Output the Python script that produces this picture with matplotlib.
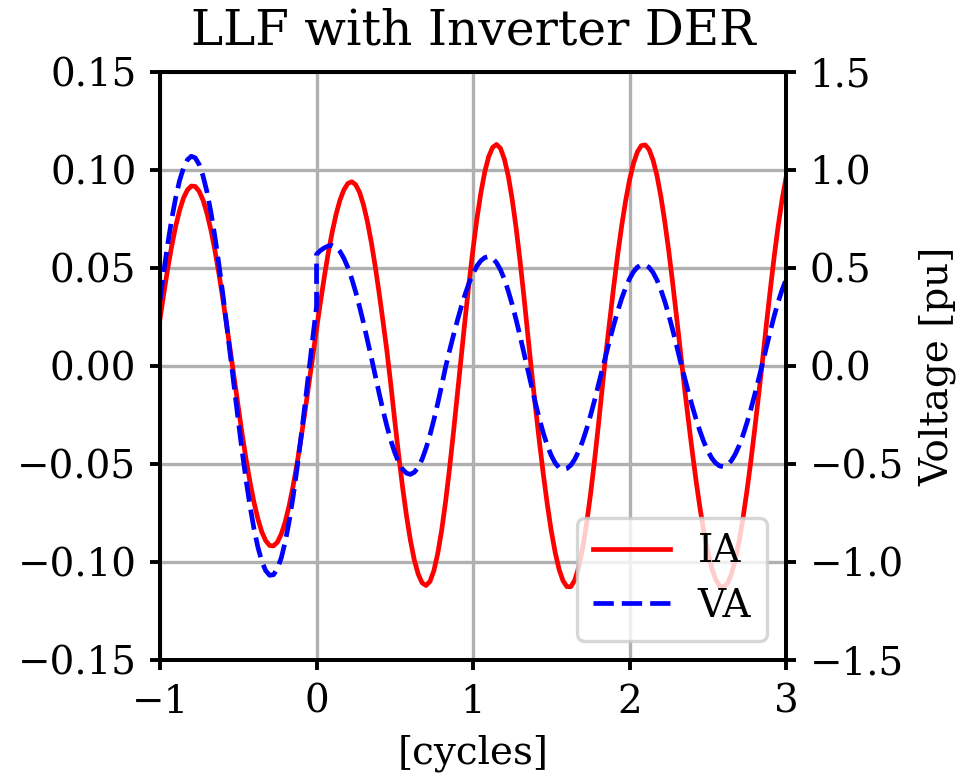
import numpy as np
import matplotlib
matplotlib.use("Agg")
import matplotlib.pyplot as plt

plt.rcParams['font.family'] = ['DejaVu Serif']

# sample grid in cycles (step 0.025)
cycles = np.round(np.arange(-1.0, 3.0001, 0.025), 3)

# IA current (left axis), one value per cycles point
ia = [0.0240, 0.0375, 0.0500, 0.0614, 0.0713, 0.0794, 0.0857, 0.0898,
      0.0918, 0.0916, 0.0891, 0.0846, 0.0779, 0.0694, 0.0593, 0.0477,
      0.0349, 0.0213, 0.0072, -0.0072, -0.0213, -0.0349, -0.0477, -0.0593,
      -0.0694, -0.0779, -0.0846, -0.0891, -0.0916, -0.0918, -0.0899, -0.0857,
      -0.0795, -0.0713, -0.0614, -0.0501, -0.0374, -0.0240, -0.0099, 0.0044,
      0.0188, 0.0325, 0.0456, 0.0577, 0.0683, 0.0774, 0.0847, 0.0899,
      0.0931, 0.0940, 0.0925, 0.0886, 0.0822, 0.0737, 0.0631, 0.0509,
      0.0372, 0.0226, 0.0074, -0.0097, -0.0280, -0.0456, -0.0620, -0.0765,
      -0.0890, -0.0991, -0.1063, -0.1107, -0.1120, -0.1099, -0.1044, -0.0955,
      -0.0836, -0.0690, -0.0522, -0.0338, -0.0144, 0.0053, 0.0244, 0.0427,
      0.0597, 0.0752, 0.0883, 0.0990, 0.1068, 0.1115, 0.1130, 0.1111,
      0.1056, 0.0970, 0.0851, 0.0706, 0.0539, 0.0355, 0.0159, -0.0036,
      -0.0218, -0.0393, -0.0558, -0.0709, -0.0842, -0.0952, -0.1038, -0.1096,
      -0.1126, -0.1126, -0.1093, -0.1027, -0.0931, -0.0808, -0.0659, -0.0492,
      -0.0310, -0.0116, 0.0071, 0.0244, 0.0413, 0.0572, 0.0716, 0.0843,
      0.0949, 0.1033, 0.1092, 0.1124, 0.1128, 0.1104, 0.1051, 0.0972,
      0.0866, 0.0737, 0.0590, 0.0427, 0.0254, 0.0073, -0.0103, -0.0270,
      -0.0432, -0.0585, -0.0724, -0.0846, -0.0949, -0.1031, -0.1088, -0.1122,
      -0.1129, -0.1110, -0.1064, -0.0991, -0.0895, -0.0776, -0.0638, -0.0486,
      -0.0321, -0.0148, 0.0030, 0.0216, 0.0394, 0.0563, 0.0716, 0.0850,
      0.0961]

# VA voltage (right axis) before the fault: cycles -1.000 ... 0.000
va_pre = [0.336, 0.487, 0.626, 0.751, 0.858, 0.946, 1.010, 1.052,
          1.070, 1.062, 1.028, 0.969, 0.888, 0.785, 0.663, 0.525,
          0.375, 0.215, 0.050, -0.116, -0.279, -0.437, -0.583, -0.715,
          -0.829, -0.923, -0.996, -1.044, -1.068, -1.065, -1.035, -0.978,
          -0.897, -0.793, -0.668, -0.525, -0.369, -0.204, -0.033, 0.136,
          0.304]
# VA voltage after the fault: cycles 0.000 ... 3.000
va_post = [0.570, 0.589, 0.603, 0.612, 0.615, 0.606, 0.584, 0.549,
           0.503, 0.445, 0.378, 0.302, 0.220, 0.133, 0.044, -0.048,
           -0.139, -0.227, -0.308, -0.381, -0.442, -0.492, -0.527, -0.547,
           -0.553, -0.542, -0.516, -0.475, -0.419, -0.352, -0.274, -0.189,
           -0.098, -0.004, 0.078, 0.157, 0.232, 0.303, 0.367, 0.424,
           0.472, 0.510, 0.537, 0.553, 0.558, 0.549, 0.527, 0.491,
           0.443, 0.383, 0.314, 0.237, 0.154, 0.067, -0.021, -0.109,
           -0.194, -0.273, -0.345, -0.407, -0.457, -0.495, -0.519, -0.528,
           -0.523, -0.506, -0.476, -0.435, -0.384, -0.323, -0.254, -0.180,
           -0.101, -0.020, 0.060, 0.138, 0.212, 0.281, 0.345, 0.399,
           0.445, 0.480, 0.504, 0.516, 0.516, 0.503, 0.477, 0.439,
           0.389, 0.330, 0.261, 0.186, 0.106, 0.023, -0.055, -0.131,
           -0.203, -0.271, -0.333, -0.388, -0.433, -0.470, -0.495, -0.510,
           -0.514, -0.505, -0.484, -0.451, -0.407, -0.353, -0.290, -0.221,
           -0.146, -0.067, 0.014, 0.098, 0.180, 0.257, 0.327, 0.389,
           0.440]

n_pre = len(va_pre)
cycles_va = np.concatenate([cycles[:n_pre], cycles[n_pre - 1:]])
va = va_pre + va_post
n = min(len(cycles), len(ia))
m = min(len(cycles_va), len(va))

left_ticks = [-0.15, -0.10, -0.05, 0.00, 0.05, 0.10, 0.15]
right_ticks = [-1.5, -1.0, -0.5, 0.0, 0.5, 1.0, 1.5]
x_ticks = [-1, 0, 1, 2, 3]

fig = plt.figure(figsize=(9.64, 7.78), dpi=100)
ax = fig.add_axes([0.166, 0.1517, 0.6494, 0.7558])
ax2 = ax.twinx()

l1, = ax.plot(cycles[:n], ia[:n], color='red', lw=3.4, label='IA', zorder=3,
              solid_joinstyle='round')
l2, = ax2.plot(cycles_va[:m], va[:m], color='blue', lw=3.4,
               linestyle=(0, (4.3, 1.7)), label='VA', dash_joinstyle='round')

ax.set_xlim(-1, 3)
ax.set_ylim(-0.15, 0.15)
ax2.set_ylim(-1.5, 1.5)
ax.set_xticks(x_ticks)
ax.set_yticks(left_ticks)
ax2.set_yticks(right_ticks)

ax.grid(True, color='#b0b0b0', lw=2.4)
ax.set_axisbelow(True)

fs = 28
for a in (ax, ax2):
    a.tick_params(labelsize=fs, width=2.8, length=7, pad=10)
    for s in a.spines.values():
        s.set_linewidth(2.8)

ax.set_xlabel('[cycles]', fontsize=fs, labelpad=10)
ax2.set_ylabel('Voltage [pu]', fontsize=fs, labelpad=11)
ax.set_title('LLF with Inverter DER', fontsize=35, pad=20)

leg = ax2.legend([l1, l2], ['IA', 'VA'], loc='lower right', fontsize=fs,
                 handlelength=2.0, borderaxespad=0.5, borderpad=0.4,
                 labelspacing=0.45, handletextpad=0.7)
leg.get_frame().set_linewidth(2.4)

fig.savefig('out.png', dpi=100)
